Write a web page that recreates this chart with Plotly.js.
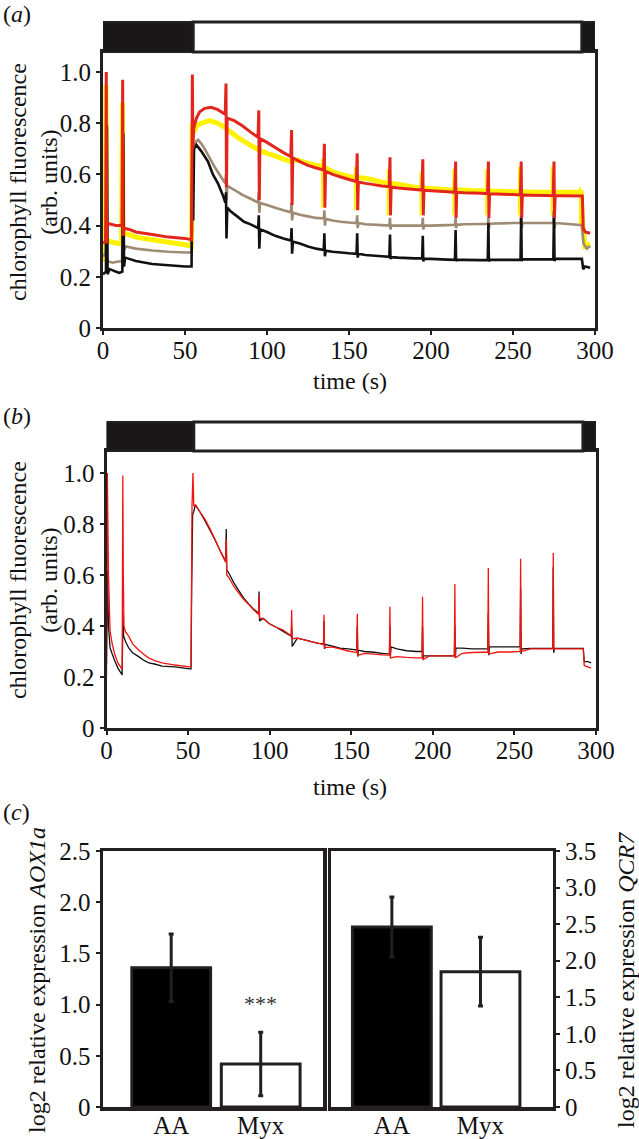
<!DOCTYPE html>
<html>
<head>
<meta charset="utf-8">
<script src="https://cdn.plot.ly/plotly-3.0.1.min.js"></script>
<style>html,body{margin:0;padding:0;background:#fff;}#chart{width:639px;height:1139px;}</style>
</head>
<body>
<div id="chart"></div>
<script>
// ---------- Panel (a) data ----------
const timeA_red = [0,1.6,2.0,2.2,2.6,5,8,11.6,12.0,12.3,12.8,16,20,30,40,50,54.0,54.5,54.8,55.3,57,59,62,66,70,74.5,75.0,75.3,75.7,80,85,90,94.5,95.0,95.3,95.7,100,105,110,114.5,115.0,115.3,115.7,120,125,130,134.5,135.0,135.3,135.7,140,145,150,154.5,155.0,155.3,155.7,160,165,170,174.5,175.0,175.3,175.7,180,185,190,194.5,195.0,195.3,195.7,200,210,214.5,215.0,215.3,215.7,220,230,234.5,235.0,235.3,235.7,240,250,254.5,255.0,255.3,255.7,260,270,274.5,275.0,275.3,275.7,280,292.3,292.8,294,297];
const fluorA_red = [0.33,0.34,1.0,0.33,0.41,0.405,0.40,0.40,0.97,0.36,0.39,0.385,0.375,0.365,0.355,0.35,0.345,0.99,0.70,0.78,0.82,0.845,0.858,0.862,0.853,0.835,0.955,0.55,0.82,0.81,0.79,0.765,0.745,0.85,0.50,0.74,0.725,0.705,0.685,0.67,0.773,0.48,0.665,0.65,0.635,0.625,0.617,0.72,0.47,0.612,0.60,0.59,0.58,0.572,0.682,0.46,0.57,0.565,0.56,0.555,0.552,0.667,0.44,0.55,0.547,0.544,0.541,0.539,0.659,0.44,0.538,0.536,0.532,0.53,0.65,0.43,0.53,0.528,0.526,0.525,0.65,0.43,0.524,0.523,0.521,0.52,0.65,0.43,0.52,0.519,0.518,0.517,0.65,0.43,0.517,0.517,0.516,0.39,0.375,0.37];

const timeA_yellow = [0,1.4,1.8,2.2,3,6,9,11.4,11.8,12.2,13,16,20,30,40,50,54,54.4,55,57,60,65,70,74,78,82,87,91,95,100,105,110,114,119,124,129,134,140,145,150,154,160,165,170,174,180,185,190,194,200,205,210,214,220,225,230,234,240,245,250,254,260,265,270,274,280,285,291.5,292.5,294,297];
const fluorA_yellow = [0.26,0.30,0.95,0.33,0.34,0.335,0.33,0.33,0.88,0.36,0.37,0.365,0.355,0.345,0.335,0.325,0.32,0.80,0.76,0.79,0.80,0.81,0.80,0.785,0.765,0.745,0.725,0.71,0.695,0.682,0.672,0.66,0.652,0.655,0.645,0.637,0.63,0.61,0.60,0.592,0.588,0.585,0.578,0.57,0.565,0.562,0.556,0.55,0.547,0.545,0.542,0.54,0.539,0.539,0.537,0.536,0.535,0.534,0.533,0.532,0.531,0.531,0.53,0.53,0.53,0.53,0.53,0.53,0.40,0.32,0.33];
// thin yellow flash artefacts (null separates segments)
const timeA_yellowFlash = [133.6,133.6,null,153.6,153.6,null,173.6,173.6,null,193.6,193.6,null,213.6,213.6,null,233.6,233.6,null,253.6,253.6,null,273.6,273.6,null,290.8,290.8];
const fluorA_yellowFlash = [0.66,0.47,null,0.63,0.46,null,0.62,0.44,null,0.61,0.44,null,0.62,0.44,null,0.62,0.44,null,0.63,0.44,null,0.63,0.44,null,0.55,0.40];

const timeA_brown = [0,1.5,2.0,2.4,3,6,9,11.6,12.0,12.4,14,20,30,40,50,54,54.5,55,57,58,60,62,65,68,72,74.6,75.0,75.3,75.8,80,85,90,94.6,95.0,95.3,95.8,100,105,110,114.6,115.0,115.3,115.8,120,125,130,134.6,135.0,135.3,135.8,140,145,150,154.6,155.0,155.3,155.8,160,170,174.6,175.0,175.3,175.8,180,190,194.6,195.0,195.3,195.8,200,210,214.6,215.0,215.3,215.8,220,230,234.6,235.0,235.3,235.8,240,250,254.6,255.0,255.3,255.8,260,270,274.6,275.0,275.3,275.8,280,292,293,295,297];
const fluorA_brown = [0.28,0.29,0.42,0.27,0.26,0.255,0.26,0.26,0.45,0.30,0.318,0.31,0.303,0.298,0.295,0.295,0.60,0.70,0.73,0.735,0.72,0.70,0.665,0.63,0.59,0.565,0.60,0.50,0.555,0.54,0.52,0.505,0.49,0.53,0.45,0.488,0.48,0.47,0.46,0.452,0.49,0.42,0.45,0.442,0.436,0.43,0.428,0.46,0.40,0.426,0.42,0.415,0.412,0.41,0.44,0.39,0.41,0.405,0.402,0.40,0.43,0.385,0.40,0.40,0.40,0.40,0.43,0.385,0.40,0.40,0.402,0.403,0.43,0.39,0.403,0.405,0.406,0.407,0.43,0.39,0.407,0.408,0.41,0.41,0.44,0.39,0.41,0.41,0.41,0.41,0.44,0.39,0.41,0.408,0.402,0.33,0.31,0.32];

const timeA_black = [0,1.8,2.4,2.8,4,6,8,10,11.8,12.4,12.8,13.5,16,20,30,40,50,54,54.6,55,55.5,57,60,64,67,70,73,74.6,75.0,75.3,75.8,78,82,86,90,94.6,95.0,95.3,95.8,100,105,110,114.6,115.0,115.3,115.8,120,125,130,134.6,135.0,135.3,135.8,140,145,150,154.6,155.0,155.3,155.8,160,170,174.6,175.0,175.3,175.8,180,190,194.6,195.0,195.3,195.8,200,210,214.6,215.0,215.3,215.8,220,230,234.6,235.0,235.3,235.8,240,250,254.6,255.0,255.3,255.8,260,270,274.6,275.0,275.3,275.8,280,292,292.8,294,297];
const fluorA_black = [0.21,0.22,0.79,0.21,0.23,0.225,0.22,0.215,0.22,0.76,0.24,0.275,0.27,0.262,0.25,0.245,0.24,0.24,0.767,0.42,0.70,0.715,0.69,0.65,0.60,0.566,0.52,0.49,0.53,0.35,0.47,0.455,0.435,0.415,0.405,0.39,0.44,0.31,0.385,0.375,0.36,0.35,0.342,0.39,0.29,0.337,0.33,0.318,0.31,0.305,0.37,0.28,0.302,0.298,0.295,0.292,0.29,0.37,0.275,0.29,0.285,0.28,0.278,0.365,0.27,0.277,0.275,0.272,0.272,0.36,0.26,0.27,0.27,0.267,0.266,0.383,0.262,0.266,0.266,0.265,0.265,0.41,0.26,0.266,0.266,0.266,0.266,0.435,0.262,0.268,0.268,0.268,0.268,0.458,0.262,0.27,0.27,0.27,0.23,0.24,0.235];

// ---------- Panel (b) data ----------
const timeB_red = [0,0.5,1.2,2.2,3.5,5,7,9.6,10.0,10.3,10.7,11.6,13.6,16,19.7,23,26,30,34,42,51,51.8,52.4,53.0,53.5,54.5,57,60.6,63.5,66.7,70,73.0,73.4,73.7,75,78,81,84,87.4,90,93.2,93.5,93.8,96,99.6,104,108,113.2,113.5,113.8,117,122,126,130,133.0,133.3,133.6,138,143,148,153.4,153.7,154.0,158,164,169,173.4,173.7,174.0,178,184,190,193.4,193.7,194.0,198,204,210,213.2,213.5,213.8,218,224,230,233.7,234.0,234.3,240,247,253.5,253.8,254.1,260,267,273.5,273.8,274.1,280,292.2,292.8,295,297];
const fluorB_red = [0.20,1.0,0.60,0.38,0.33,0.29,0.255,0.23,0.99,0.60,0.40,0.378,0.36,0.33,0.306,0.288,0.274,0.263,0.255,0.247,0.24,0.24,0.87,1.0,0.87,0.875,0.85,0.816,0.78,0.737,0.69,0.65,0.74,0.60,0.59,0.555,0.53,0.505,0.483,0.465,0.445,0.52,0.43,0.43,0.41,0.395,0.385,0.362,0.463,0.35,0.352,0.345,0.338,0.332,0.327,0.444,0.315,0.318,0.31,0.302,0.296,0.448,0.285,0.293,0.29,0.287,0.286,0.475,0.275,0.28,0.277,0.275,0.275,0.515,0.268,0.283,0.283,0.283,0.284,0.565,0.275,0.293,0.296,0.297,0.298,0.627,0.29,0.298,0.298,0.30,0.664,0.30,0.31,0.31,0.31,0.686,0.31,0.31,0.31,0.245,0.24,0.235];

const timeB_black = [0,0.6,1.2,2.2,3.5,5,7,9.6,10.1,10.5,11.6,13.6,16,19.7,23,26,30,34,42,51,51.8,52.2,52.8,53.5,54.5,57,60.6,63.5,66.7,70,73.0,73.4,73.7,75,78,81,84,87.4,90,93.2,93.5,93.8,96,99.6,104,108,113.2,113.5,113.8,117,122,126,130,133.0,133.3,133.6,134.0,138,143,148,153.4,153.7,154.0,154.4,158,164,169,173.4,173.7,174.0,174.4,178,184,190,193.4,193.7,194.0,194.4,198,204,210,213.2,213.5,213.8,214.2,218,224,230,233.7,234.0,234.3,234.7,240,247,253.5,253.8,254.1,254.5,260,267,273.5,273.8,274.1,274.5,280,292.2,292.8,295,297];
const fluorB_black = [0.25,0.62,0.40,0.314,0.29,0.265,0.235,0.208,0.45,0.36,0.34,0.314,0.295,0.28,0.265,0.255,0.25,0.243,0.24,0.232,0.232,0.55,0.836,0.85,0.875,0.85,0.81,0.775,0.735,0.69,0.655,0.78,0.62,0.607,0.57,0.54,0.51,0.485,0.467,0.45,0.535,0.42,0.43,0.41,0.395,0.38,0.36,0.40,0.32,0.352,0.345,0.338,0.332,0.33,0.42,0.31,0.328,0.322,0.313,0.31,0.306,0.40,0.28,0.305,0.30,0.297,0.293,0.29,0.40,0.28,0.318,0.31,0.303,0.30,0.30,0.40,0.27,0.283,0.283,0.283,0.283,0.283,0.40,0.275,0.314,0.313,0.31,0.31,0.31,0.45,0.285,0.318,0.318,0.318,0.318,0.55,0.29,0.31,0.312,0.312,0.312,0.63,0.295,0.312,0.312,0.312,0.26,0.26,0.255];

// ---------- Panel (c) data ----------
const treatments = ['AA', 'Myx'];
const aox1aMean = [1.36, 0.42];
const aox1aErr = [0.33, 0.31];
const qcr7Mean = [2.46, 1.85];
const qcr7Err = [0.41, 0.47];
const barColors = ['#000000', '#ffffff'];
const yTicksAB = [0, 0.2, 0.4, 0.6, 0.8, 1.0];
const yTickTextAB = ['0', '0.2', '0.4', '0.6', '0.8', '1.0'];
const xTicksAB = [0, 50, 100, 150, 200, 250, 300];
const yTicksC1 = [0, 0.5, 1.0, 1.5, 2.0, 2.5];
const yTickTextC1 = ['0', '0.5', '1.0', '1.5', '2.0', '2.5'];
const yTicksC2 = [0, 0.5, 1.0, 1.5, 2.0, 2.5, 3.0, 3.5];
const yTickTextC2 = ['0', '0.5', '1.0', '1.5', '2.0', '2.5', '3.0', '3.5'];

// ---------- geometry helpers ----------
const W = 639, H = 1139;
const px = v => v / W;
const py = v => 1 - v / H;
const FONT = '"Liberation Serif", "Times New Roman", Times, serif';
const INK = '#231f20';

function line(x, y, color, width, xa, ya) {
  return {x: x, y: y, type: 'scatter', mode: 'lines', xaxis: xa, yaxis: ya, connectgaps: false,
          line: {color: color, width: width, simplify: false}, hoverinfo: 'skip'};
}

const traces = [
  line(timeA_yellow, fluorA_yellow, '#FFF200', 5, 'x', 'y'),
  line(timeA_yellowFlash, fluorA_yellowFlash, '#FFF200', 2, 'x', 'y'),
  line(timeA_brown, fluorA_brown, '#9E8B73', 2.6, 'x', 'y'),
  line(timeA_black, fluorA_black, '#111111', 2.6, 'x', 'y'),
  line(timeA_red, fluorA_red, '#E2261E', 3, 'x', 'y'),
  line(timeB_black, fluorB_black, '#111111', 1.3, 'x2', 'y2'),
  line(timeB_red, fluorB_red, '#F2140F', 1.3, 'x2', 'y2'),
  {x: [0, 1], y: aox1aMean, type: 'bar', xaxis: 'x3', yaxis: 'y3', width: 0.88,
   marker: {color: barColors, line: {color: INK, width: 3}},
   error_y: {type: 'data', array: aox1aErr, visible: true, color: INK, thickness: 3, width: 2.5},
   text: treatments, textposition: 'none', hoverinfo: 'skip'},
  {x: [0, 1], y: qcr7Mean, type: 'bar', xaxis: 'x4', yaxis: 'y4', width: 0.89,
   marker: {color: barColors, line: {color: INK, width: 3}},
   error_y: {type: 'data', array: qcr7Err, visible: true, color: INK, thickness: 3, width: 2.5},
   text: treatments, textposition: 'none', hoverinfo: 'skip'}
];

const tickFont = {family: FONT, size: 25, color: '#111'};
function xAxisTime(domain, anchor) {
  return {domain: domain, anchor: anchor, range: [0, 300], tickvals: xTicksAB, ticks: 'outside',
          ticklen: 4, tickwidth: 2, tickcolor: INK, showline: true, linewidth: 3, linecolor: INK,
          mirror: true, showgrid: false, zeroline: false, tickfont: tickFont, fixedrange: true,
          ticklabelstandoff: -6};
}
function yAxisFluor(domain, anchor, top) {
  return {domain: domain, anchor: anchor, range: [0, top], tickvals: yTicksAB, ticktext: yTickTextAB,
          ticks: 'outside', ticklen: 4, tickwidth: 2, tickcolor: INK, showline: true, linewidth: 3,
          linecolor: INK, mirror: true, showgrid: false, zeroline: false, tickfont: tickFont, fixedrange: true};
}

// light/dark bars above panels (a) and (b)
function lightBar(xref, yTop, yBot, darkEnd, lightEnd) {
  return [
    {type: 'rect', xref: xref, yref: 'paper', x0: 0, x1: darkEnd, y0: py(yBot), y1: py(yTop),
     fillcolor: '#1a1718', line: {color: INK, width: 2}, layer: 'above'},
    {type: 'rect', xref: xref, yref: 'paper', x0: darkEnd, x1: lightEnd, y0: py(yBot), y1: py(yTop),
     fillcolor: '#ffffff', line: {color: INK, width: 3}, layer: 'above'},
    {type: 'rect', xref: xref, yref: 'paper', x0: lightEnd, x1: 300, y0: py(yBot), y1: py(yTop),
     fillcolor: '#1a1718', line: {color: INK, width: 2}, layer: 'above'}
  ];
}

const annFont = {family: FONT, size: 24, color: '#111'};
const layout = {
  width: W, height: H, margin: {l: 0, r: 0, t: 0, b: 0},
  paper_bgcolor: '#ffffff', plot_bgcolor: '#ffffff', showlegend: false,
  font: {family: FONT, color: '#111'},
  xaxis: xAxisTime([px(103), px(595)], 'y'),
  yaxis: yAxisFluor([py(328), py(52)], 'x', (328 - 52) / 256),
  xaxis2: xAxisTime([px(106.5), px(596)], 'y2'),
  yaxis2: yAxisFluor([py(728), py(451)], 'x2', (728 - 451) / 255),
  xaxis3: {domain: [px(103), px(323)], anchor: 'y3', range: [-0.762, 1.696], tickvals: [0, 1], ticktext: treatments,
           ticks: '', showline: true, linewidth: 3.5, linecolor: INK, mirror: true, showgrid: false,
           zeroline: false, tickfont: tickFont, fixedrange: true, ticklabelstandoff: -7},
  yaxis3: {domain: [py(1107), py(851)], anchor: 'x3', range: [0, 2.5], tickvals: yTicksC1, ticktext: yTickTextC1,
           ticks: 'outside', ticklen: 4, tickwidth: 2, tickcolor: INK, showline: true, linewidth: 3.5,
           linecolor: INK, mirror: true, showgrid: false, zeroline: false, tickfont: tickFont, fixedrange: true},
  xaxis4: {domain: [px(331), px(552.5)], anchor: 'y4', range: [-0.687, 1.813], tickvals: [0, 1], ticktext: treatments,
           ticks: '', showline: true, linewidth: 3.5, linecolor: INK, mirror: true, showgrid: false,
           zeroline: false, tickfont: tickFont, fixedrange: true, ticklabelstandoff: -7},
  yaxis4: {domain: [py(1107), py(851)], anchor: 'x4', side: 'right', range: [0, 3.5], tickvals: yTicksC2,
           ticktext: yTickTextC2, ticks: 'outside', ticklen: 4, tickwidth: 2, tickcolor: INK, showline: true,
           linewidth: 3.5, linecolor: INK, mirror: true, showgrid: false, zeroline: false, tickfont: tickFont,
           fixedrange: true},
  shapes: [].concat(lightBar('x', 22, 52, 55, 292), lightBar('x2', 422, 451, 53.5, 292)),
  annotations: [
    {text: '(<i>a</i>)', xref: 'paper', yref: 'paper', x: px(1), y: py(14), xanchor: 'left', yanchor: 'middle', showarrow: false, font: annFont},
    {text: '(<i>b</i>)', xref: 'paper', yref: 'paper', x: px(1), y: py(416), xanchor: 'left', yanchor: 'middle', showarrow: false, font: annFont},
    {text: '(<i>c</i>)', xref: 'paper', yref: 'paper', x: px(1), y: py(812), xanchor: 'left', yanchor: 'middle', showarrow: false, font: annFont},
    {text: 'chlorophyll fluorescence<br>(arb. units)', xref: 'paper', yref: 'paper', x: px(33), y: py(182), xanchor: 'center', yanchor: 'middle', textangle: -90, showarrow: false, font: annFont},
    {text: 'chlorophyll fluorescence<br>(arb. units)', xref: 'paper', yref: 'paper', x: px(33), y: py(580), xanchor: 'center', yanchor: 'middle', textangle: -90, showarrow: false, font: annFont},
    {text: 'time (s)', xref: 'paper', yref: 'paper', x: px(350), y: py(381), xanchor: 'center', yanchor: 'middle', showarrow: false, font: annFont},
    {text: 'time (s)', xref: 'paper', yref: 'paper', x: px(350), y: py(787), xanchor: 'center', yanchor: 'middle', showarrow: false, font: annFont},
    {text: 'log2 relative expression <i>AOX1a</i>', xref: 'paper', yref: 'paper', x: px(37), y: py(980), xanchor: 'center', yanchor: 'middle', textangle: -90, showarrow: false, font: annFont},
    {text: 'log2 relative expression <i>QCR7</i>', xref: 'paper', yref: 'paper', x: px(626), y: py(980), xanchor: 'center', yanchor: 'middle', textangle: -90, showarrow: false, font: annFont},
    {text: '***', xref: 'x3', yref: 'y3', x: 1, y: 1.01, xanchor: 'center', yanchor: 'middle', showarrow: false, font: {family: FONT, size: 22, color: '#333'}}
  ]
};

Plotly.newPlot('chart', traces, layout, {staticPlot: true, displayModeBar: false});
</script>
</body>
</html>
